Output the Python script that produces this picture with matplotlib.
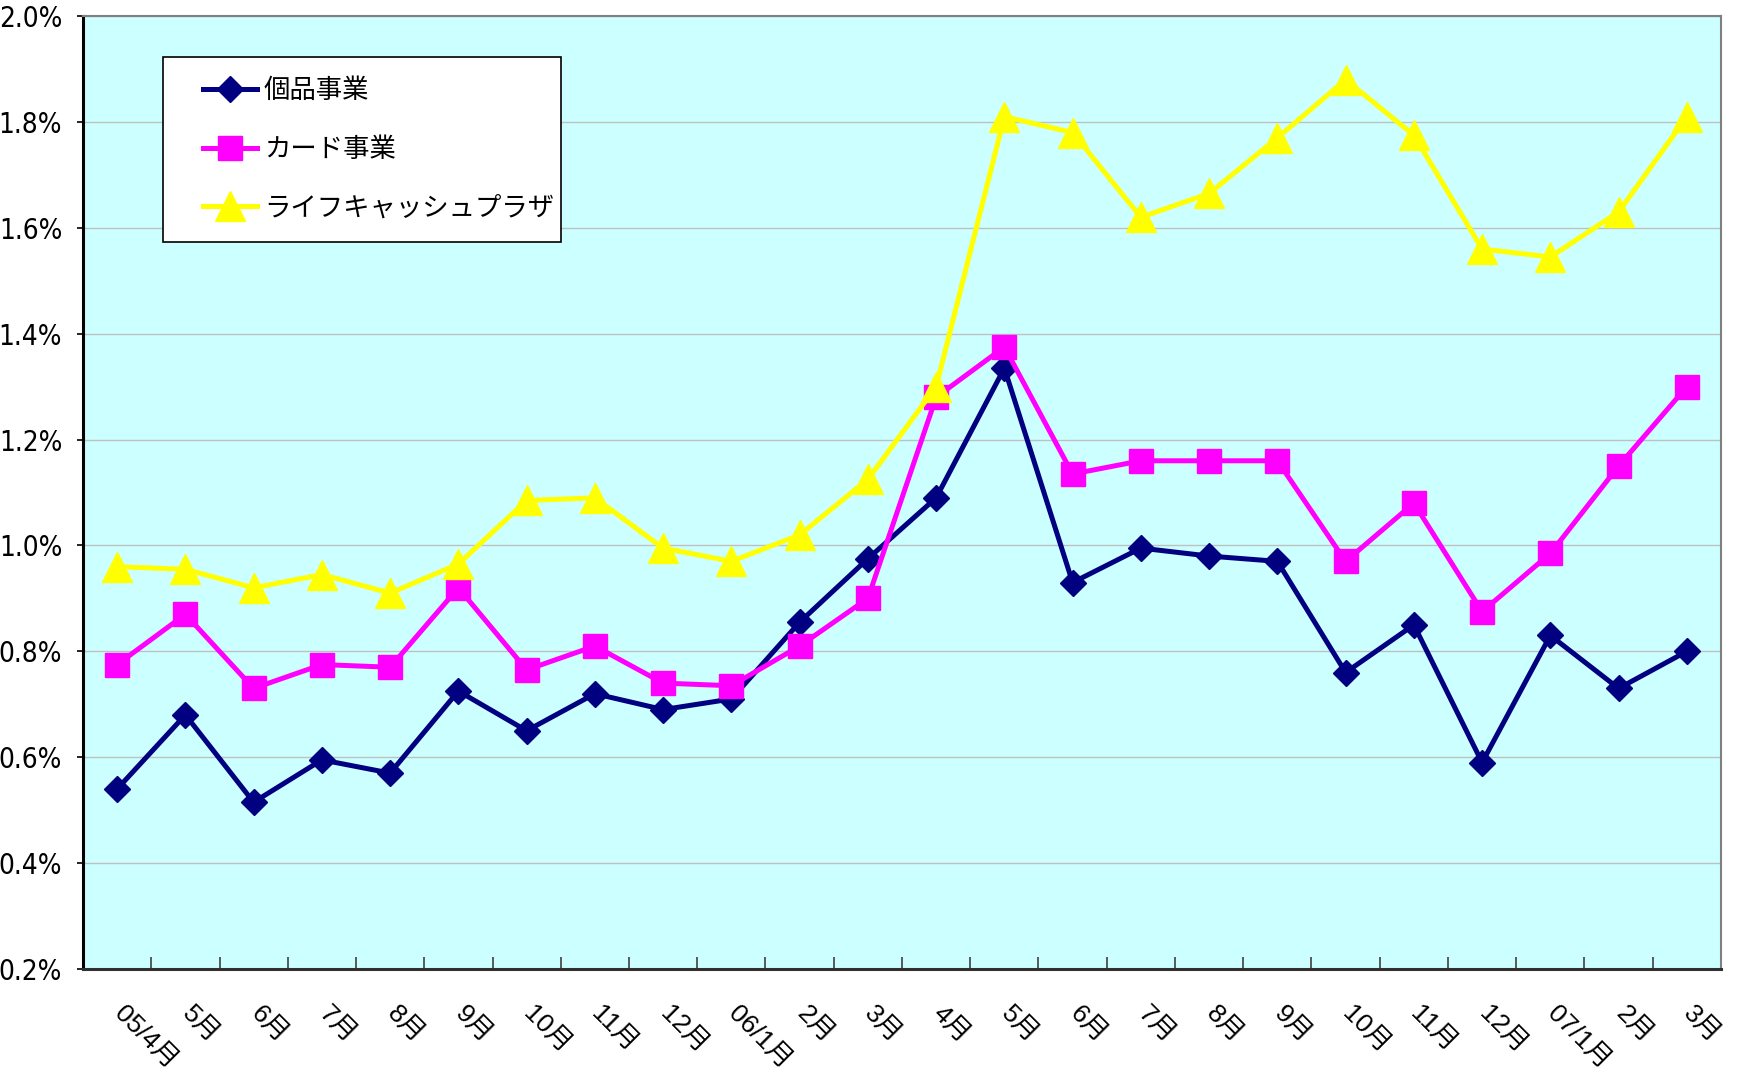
import matplotlib
matplotlib.use("Agg")
import matplotlib.pyplot as plt
from matplotlib.patches import Rectangle
from matplotlib.ticker import FixedLocator, FuncFormatter

plt.rcParams['font.family'] = ['Liberation Sans', 'Noto Sans CJK JP']

# 月ラベル
months = ['05/4月', '5月', '6月', '7月', '8月', '9月', '10月', '11月', '12月',
          '06/1月', '2月', '3月', '4月', '5月', '6月', '7月', '8月', '9月',
          '10月', '11月', '12月', '07/1月', '2月', '3月']

# 値 (%)
kobin = [0.54, 0.68, 0.515, 0.595, 0.57, 0.725, 0.65, 0.72, 0.69, 0.71,
         0.855, 0.975, 1.09, 1.335, 0.93, 0.995, 0.98, 0.97,
         0.76, 0.85, 0.59, 0.83, 0.73, 0.80]
card = [0.775, 0.87, 0.73, 0.775, 0.77, 0.92, 0.765, 0.81, 0.74, 0.735,
        0.81, 0.90, 1.28, 1.375, 1.135, 1.16, 1.16, 1.16,
        0.97, 1.08, 0.875, 0.985, 1.15, 1.30]
life = [0.96, 0.955, 0.92, 0.945, 0.91, 0.965, 1.085, 1.09, 0.995, 0.97,
        1.02, 1.125, 1.30, 1.81, 1.78, 1.62, 1.665, 1.77,
        1.88, 1.775, 1.56, 1.545, 1.63, 1.81]

series = [
    ('個品事業', kobin, '#000080', 'D', 13),
    ('カード事業', card, '#FF00FF', 's', 17),
    ('ライフキャッシュプラザ', life, '#FFFF00', '^', 21),
]

fig, ax = plt.subplots(figsize=(17.44, 10.74), dpi=100)
fig.subplots_adjust(left=0.0476, right=0.9868, top=0.985, bottom=0.0978)
ax.set_facecolor('#CCFFFF')

x = list(range(len(months)))
for name, vals, col, mk, ms in series:
    ax.plot(x, vals, color=col, lw=3.6, marker=mk, markersize=ms,
            markerfacecolor=col, markeredgecolor=col, label=name, zorder=3)

ax.set_xlim(-0.5, len(months) - 0.5)
ax.set_ylim(0.2, 2.0)
ax.set_yticks([0.2 + 0.2 * i for i in range(10)])
ax.yaxis.set_major_formatter(FuncFormatter(lambda v, p: '%.1f%%' % v))
ax.grid(axis='y', color='#C0C0C0', lw=1.0)
ax.set_axisbelow(True)

ax.set_xticks(x)
ax.set_xticklabels(months, rotation=-45, ha='left', va='center',
                   rotation_mode='anchor')
ax.tick_params(axis='x', length=0, labelsize=19, pad=30)
ax.xaxis.set_minor_locator(FixedLocator([i + 0.5 for i in range(len(months) - 1)]))
ax.tick_params(axis='x', which='minor', direction='in', length=9, width=1.2, color='#404040')
ax.tick_params(axis='y', direction='out', length=4, width=1.2, pad=11)
for lab in ax.get_yticklabels():
    lab.set_family(['DejaVu Sans'])
    lab.set_stretch('condensed')
    lab.set_fontsize(20)

for s in ['top', 'right']:
    ax.spines[s].set_color('#808080')
    ax.spines[s].set_linewidth(1.5)
ax.spines['left'].set_color('black')
ax.spines['left'].set_linewidth(2.2)
ax.spines['bottom'].set_color('#303030')
ax.spines['bottom'].set_linewidth(2.2)

# 凡例の枠
ax.add_patch(Rectangle((0.0489, 0.7631), 0.2432, 0.1937, transform=ax.transAxes,
                       facecolor='white', edgecolor='black', lw=1.2, zorder=4.5))
leg = ax.legend(loc='upper left', bbox_to_anchor=(0.0734, 0.936), borderaxespad=0,
                frameon=False, borderpad=0, labelspacing=1.2,
                handlelength=2.05, handletextpad=0.25,
                prop={'family': ['Noto Sans CJK JP'], 'size': 19})
leg.set_zorder(5)

fig.savefig('out.png', dpi=100)
